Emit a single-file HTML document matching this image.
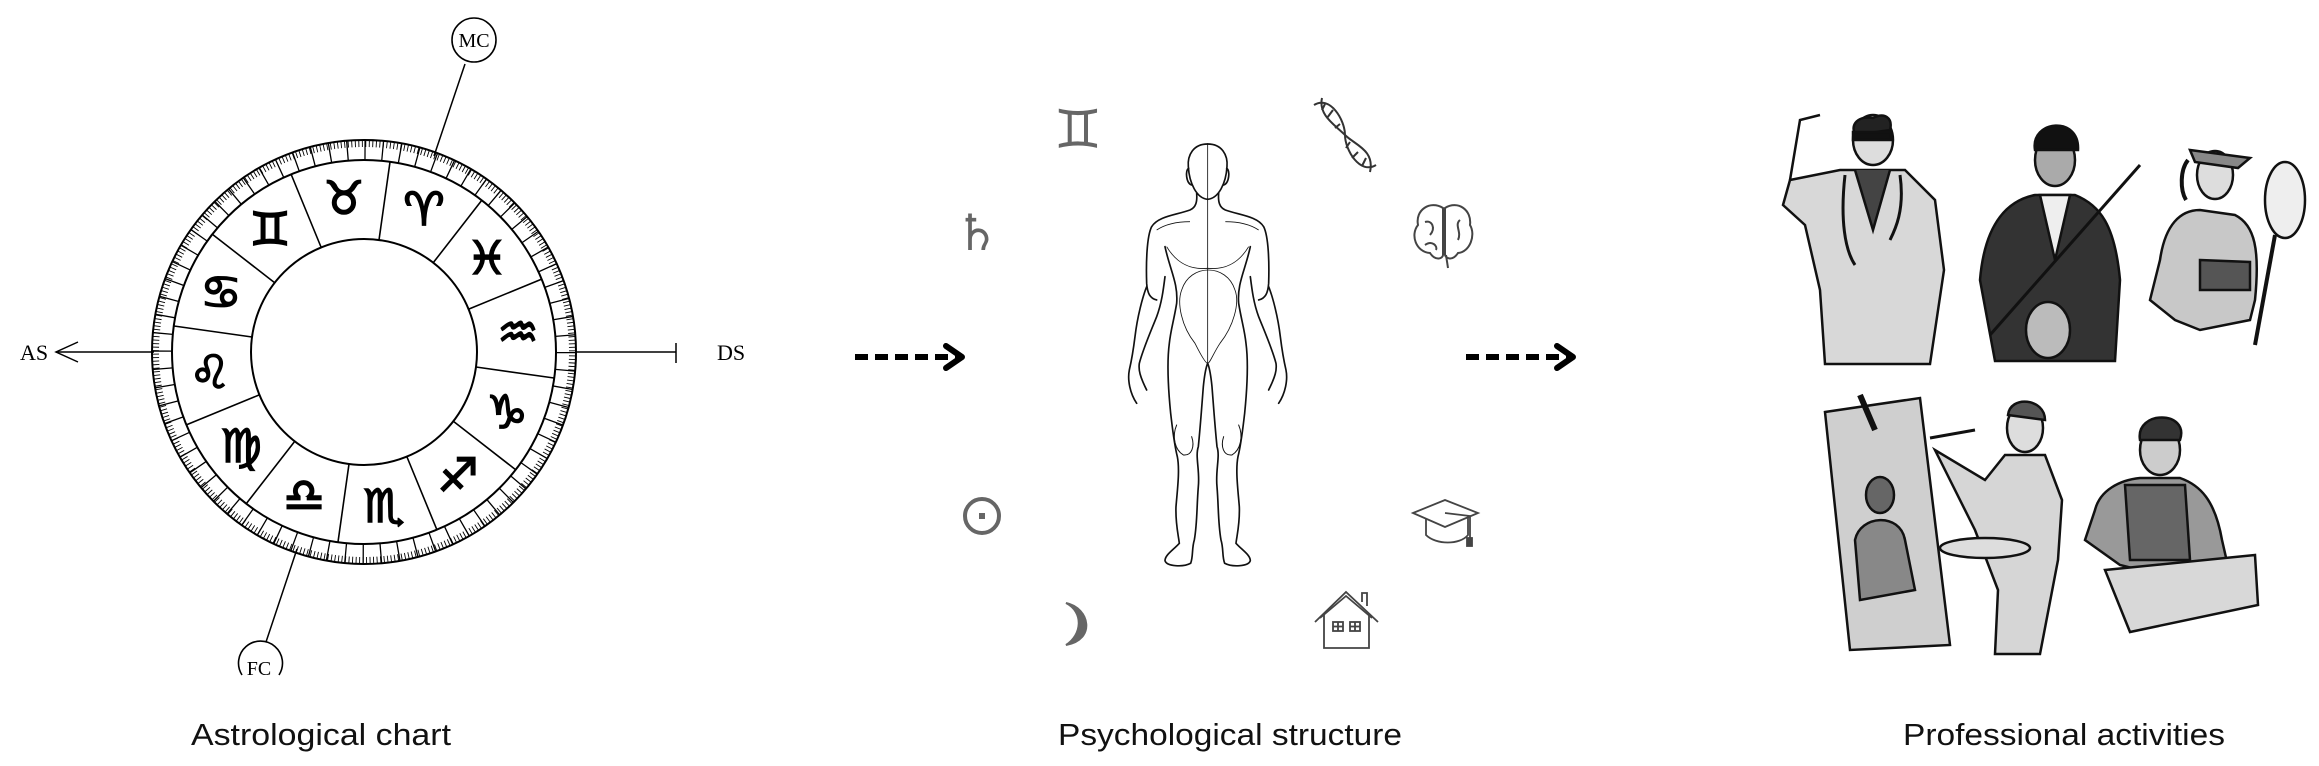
<!DOCTYPE html>
<html><head><meta charset="utf-8"><style>
html,body{margin:0;padding:0;background:#fff;}
svg{display:block}
</style></head><body>
<svg width="2319" height="766" viewBox="0 0 2319 766" xmlns="http://www.w3.org/2000/svg">
<!-- Astrological chart -->
<g fill="none" stroke="#000">
  <circle cx="364" cy="352" r="212" stroke-width="2"/>
  <circle cx="364" cy="352" r="192" stroke-width="2"/>
  <circle cx="364" cy="352" r="113" stroke-width="2"/>
  <circle cx="364" cy="352" r="208.5" stroke-width="7" stroke-dasharray="0.9 2.6256"/>
  <circle cx="364" cy="352" r="202" stroke-width="20" stroke-dasharray="1.3 16.328"/>
  <g stroke-width="1.6">
    <line x1="379" y1="240" x2="390" y2="162"/>
    <line x1="433" y1="263" x2="482" y2="200"/>
    <line x1="469" y1="309" x2="542" y2="279"/>
    <line x1="476" y1="367" x2="554" y2="378"/>
    <line x1="453" y1="421" x2="516" y2="470"/>
    <line x1="407" y1="457" x2="437" y2="530"/>
    <line x1="349" y1="464" x2="338" y2="542"/>
    <line x1="295" y1="441" x2="246" y2="504"/>
    <line x1="259" y1="395" x2="186" y2="425"/>
    <line x1="252" y1="337" x2="174" y2="326"/>
    <line x1="275" y1="283" x2="212" y2="234"/>
    <line x1="321" y1="247" x2="291" y2="174"/>
  </g>
  <line x1="465" y1="64" x2="434" y2="156" stroke-width="1.5"/>
  <circle cx="474" cy="40" r="22" stroke-width="1.6"/>
  <line x1="297" y1="549" x2="266" y2="642" stroke-width="1.5"/>
  <path d="M242,675 A22,22 0 1 1 279,675" stroke-width="1.6"/>
  <line x1="56" y1="352" x2="154" y2="352" stroke-width="1.5"/>
  <polyline points="78,342 56,352 78,362" stroke-width="1.5"/>
  <line x1="576" y1="352" x2="676" y2="352" stroke-width="1.5"/>
  <line x1="676" y1="343" x2="676" y2="363" stroke-width="1.5"/>
</g>
<g font-family="'DejaVu Sans',sans-serif" font-size="46" text-anchor="middle" fill="#000" stroke="#000" stroke-width="1.6">
  <text x="424" y="225">♈&#xFE0E;</text>
  <text x="344" y="214">♉&#xFE0E;</text>
  <text x="270" y="245">♊&#xFE0E;</text>
  <text x="221" y="308">♋&#xFE0E;</text>
  <text x="210" y="388">♌&#xFE0E;</text>
  <text x="241" y="462">♍&#xFE0E;</text>
  <text x="304" y="511">♎&#xFE0E;</text>
  <text x="384" y="522">♏&#xFE0E;</text>
  <text x="458" y="491">♐&#xFE0E;</text>
  <text x="507" y="428">♑&#xFE0E;</text>
  <text x="518" y="348">♒&#xFE0E;</text>
  <text x="487" y="274">♓&#xFE0E;</text>
</g>
<g font-family="'Liberation Serif',serif" font-size="22" fill="#000" text-anchor="middle">
  <text x="474" y="47" font-size="20">MC</text>
  <text x="259" y="675" font-size="20">FC</text>
  <text x="34" y="360">AS</text>
  <text x="731" y="360">DS</text>
</g>

<!-- Arrows -->
<g stroke="#000" stroke-width="6" fill="none">
  <line x1="855" y1="357" x2="958" y2="357" stroke-dasharray="13 7"/>
  <polyline points="946,346 962,357 946,368" stroke-linecap="round" stroke-linejoin="round"/>
  <line x1="1466" y1="357" x2="1569" y2="357" stroke-dasharray="13 7"/>
  <polyline points="1557,346 1573,357 1557,368" stroke-linecap="round" stroke-linejoin="round"/>
</g>

<!-- Human figure -->
<defs>
<g id="half" fill="none" stroke="#111" stroke-width="5" stroke-linecap="round">
  <path d="M323,42 C280,42 262,75 265,110 C268,160 290,205 323,208"/>
  <path d="M266,115 C255,120 258,160 275,165"/>
  <path d="M290,190 C292,215 288,232 270,240 C230,255 175,258 155,290 C140,320 138,400 140,460 C142,490 150,505 170,510"/>
  <path d="M140,470 C128,500 112,560 105,620 C100,660 95,690 88,720 C82,750 90,790 110,820"/>
  <path d="M195,440 C190,480 185,520 170,560 C150,610 128,660 118,700 C115,720 120,740 140,780"/>
  <path d="M195,350 C210,420 235,460 230,520 C222,570 212,600 208,640 C200,700 205,780 212,850 C218,900 222,940 232,980 C240,1020 232,1080 228,1130 C226,1180 235,1215 238,1240 C220,1260 195,1275 195,1292 C200,1310 250,1312 272,1300 C280,1280 275,1255 283,1230 C292,1180 290,1130 295,1070 C300,1020 285,980 295,950 C302,880 306,820 310,770 C313,740 318,712 323,700"/>
  <path d="M230,885 C215,920 225,960 250,975 C275,978 285,950 275,920" stroke-width="3"/>
</g>
</defs>
<g transform="translate(1100,130) scale(0.3333)">
  <use href="#half"/>
  <use href="#half" transform="translate(646,0) scale(-1,1)"/>
  <g fill="none" stroke="#111" stroke-width="2.5">
    <line x1="323" y1="42" x2="323" y2="700"/>
    <path d="M245,480 C270,400 380,400 405,480 C420,520 400,590 360,640 C340,670 330,700 323,700 C316,700 300,670 285,640 C245,590 230,520 245,480"/>
    <path d="M170,300 C200,280 240,275 270,275 M476,300 C446,280 406,275 376,275"/>
    <path d="M200,350 C230,400 270,420 323,415 C376,420 416,400 446,350"/>
  </g>
</g>

<!-- Gray symbols -->
<g font-family="'DejaVu Sans',sans-serif" fill="#666" text-anchor="middle">
  <text x="1078" y="148" font-size="54">♊&#xFE0E;</text>
  <text x="977" y="250" font-size="50">♄&#xFE0E;</text>
</g>
<circle cx="982" cy="516" r="17" fill="none" stroke="#666" stroke-width="4"/>
<rect x="979" y="513" width="6" height="6" fill="#666"/>
<path d="M1066,603 C1090,608 1096,640 1066,645 C1082,635 1084,612 1066,603 Z" fill="#666" stroke="#666" stroke-width="2"/>

<!-- DNA -->
<g fill="none" stroke="#333" stroke-width="2">
  <path d="M1314,105 C1330,95 1345,120 1345,135 C1345,150 1360,175 1376,165"/>
  <path d="M1322,98 C1318,115 1335,125 1345,135 C1355,145 1375,150 1370,172"/>
  <line x1="1325" y1="104" x2="1322" y2="110"/><line x1="1333" y1="110" x2="1327" y2="118"/>
  <line x1="1340" y1="124" x2="1335" y2="128"/><line x1="1350" y1="142" x2="1346" y2="148"/>
  <line x1="1358" y1="152" x2="1352" y2="158"/><line x1="1366" y1="158" x2="1362" y2="166"/>
</g>
<!-- Brain -->
<g fill="none" stroke="#444" stroke-width="2">
  <path d="M1443,208 C1430,200 1415,210 1418,225 C1410,235 1416,252 1430,253 C1436,262 1443,258 1443,255 Z"/>
  <path d="M1445,208 C1458,200 1472,210 1470,225 C1476,235 1470,252 1458,253 C1452,262 1446,258 1445,255 Z"/>
  <path d="M1425,222 C1432,220 1436,228 1430,235 M1460,220 C1454,225 1462,232 1458,240 M1425,245 C1432,240 1438,246 1436,250"/>
  <line x1="1446" y1="255" x2="1448" y2="268"/>
</g>
<!-- Grad cap -->
<g fill="#fff" stroke="#444" stroke-width="1.8">
  <path d="M1426,517 L1426,535 C1436,545 1460,545 1468,535 L1468,517"/>
  <polygon points="1413,513 1445,500 1478,513 1445,527"/>
  <path d="M1445,513 L1470,516 L1470,538" fill="none"/>
  <rect x="1467" y="538" width="5" height="8" fill="#444"/>
</g>
<!-- House -->
<g fill="none" stroke="#444" stroke-width="1.8">
  <polyline points="1315,622 1346,592 1378,622"/>
  <polyline points="1320,618 1346,596 1372,618"/>
  <path d="M1324,614 L1324,648 L1369,648 L1369,614"/>
  <path d="M1362,602 L1362,593 L1367,593 L1367,606"/>
  <rect x="1333" y="622" width="10" height="9"/><line x1="1338" y1="622" x2="1338" y2="631"/><line x1="1333" y1="626.5" x2="1343" y2="626.5"/>
  <rect x="1350" y="622" width="10" height="9"/><line x1="1355" y1="622" x2="1355" y2="631"/><line x1="1350" y1="626.5" x2="1360" y2="626.5"/>
</g>

<!-- Professional sketches (approximations) -->
<g stroke="#111" stroke-width="2.5">
  <ellipse cx="1873" cy="140" rx="20" ry="25" fill="#ddd"/>
  <path d="M1873,118 C1855,115 1850,128 1856,135 L1890,130 C1893,118 1885,112 1873,118Z" fill="#222"/>
  <rect x="1853" y="132" width="38" height="8" fill="#111"/>
  <path d="M1790,180 L1840,170 L1905,170 L1935,200 L1944,270 L1930,364 L1825,364 L1820,290 L1805,225 L1783,205 Z" fill="#d8d8d8"/>
  <path d="M1790,180 L1800,120 L1820,115" fill="none"/>
  <path d="M1855,170 L1873,230 L1890,170" fill="#444"/>
  <path d="M1845,175 C1840,220 1845,250 1855,265 M1900,175 C1905,210 1895,230 1890,240" fill="none" stroke-width="3"/>
  <ellipse cx="2055" cy="160" rx="20" ry="26" fill="#aaa"/>
  <path d="M2035,150 C2030,120 2080,115 2078,150 Z" fill="#111"/>
  <path d="M1980,280 C1985,220 2010,200 2035,195 L2075,195 C2100,205 2115,225 2120,280 L2115,361 L1995,361 Z" fill="#333"/>
  <path d="M2040,195 L2055,260 L2070,195 Z" fill="#eee"/>
  <ellipse cx="2048" cy="330" rx="22" ry="28" fill="#bbb"/>
  <line x1="1990" y1="335" x2="2140" y2="165" stroke-width="3"/>
  <ellipse cx="2215" cy="175" rx="18" ry="24" fill="#ddd"/>
  <path d="M2190,150 L2250,158 L2238,168 L2195,162 Z" fill="#888"/>
  <path d="M2188,160 C2180,170 2180,190 2186,200" fill="none" stroke-width="4"/>
  <path d="M2160,260 C2165,225 2180,210 2200,210 L2235,215 C2255,225 2260,250 2255,300 L2250,320 L2200,330 L2175,320 L2150,300 Z" fill="#c8c8c8"/>
  <path d="M2200,260 L2250,262 L2250,290 L2200,290 Z" fill="#555"/>
  <ellipse cx="2285" cy="200" rx="20" ry="38" fill="#eee"/>
  <line x1="2275" y1="235" x2="2255" y2="345" stroke-width="4"/>
  <polygon points="1825,412 1920,398 1950,645 1850,650" fill="#cfcfcf"/>
  <line x1="1860" y1="395" x2="1875" y2="430" stroke-width="6"/>
  <ellipse cx="1880" cy="495" rx="14" ry="18" fill="#666"/>
  <path d="M1855,540 C1860,515 1900,512 1905,540 L1915,590 L1860,600 Z" fill="#888"/>
  <ellipse cx="2025" cy="428" rx="18" ry="24" fill="#ddd"/>
  <path d="M2008,415 C2010,395 2045,398 2045,420 Z" fill="#555"/>
  <path d="M1985,480 L2005,455 L2045,455 L2062,500 L2058,560 L2040,654 L1995,654 L1998,590 L1975,530 L1945,470 L1935,450 Z" fill="#d6d6d6"/>
  <ellipse cx="1985" cy="548" rx="45" ry="10" fill="#ddd"/>
  <line x1="1930" y1="438" x2="1975" y2="430" stroke-width="3"/>
  <ellipse cx="2160" cy="450" rx="20" ry="25" fill="#ccc"/>
  <path d="M2140,440 C2135,410 2190,410 2180,440 Z" fill="#333"/>
  <path d="M2095,510 C2100,490 2120,480 2140,478 L2180,478 C2200,485 2215,500 2222,540 L2230,575 L2180,580 L2120,565 L2085,540 Z" fill="#999"/>
  <path d="M2125,485 L2130,560 L2190,560 L2185,485 Z" fill="#666"/>
  <path d="M2105,570 L2255,555 L2258,605 L2130,632 Z" fill="#d8d8d8"/>
</g>

<!-- Captions -->
<g font-family="'Liberation Sans',sans-serif" font-size="31" fill="#111">
  <text x="191" y="745" textLength="260" lengthAdjust="spacingAndGlyphs">Astrological chart</text>
  <text x="1058" y="745" textLength="344" lengthAdjust="spacingAndGlyphs">Psychological structure</text>
  <text x="1903" y="745" textLength="322" lengthAdjust="spacingAndGlyphs">Professional activities</text>
</g>
</svg>
</body></html>
